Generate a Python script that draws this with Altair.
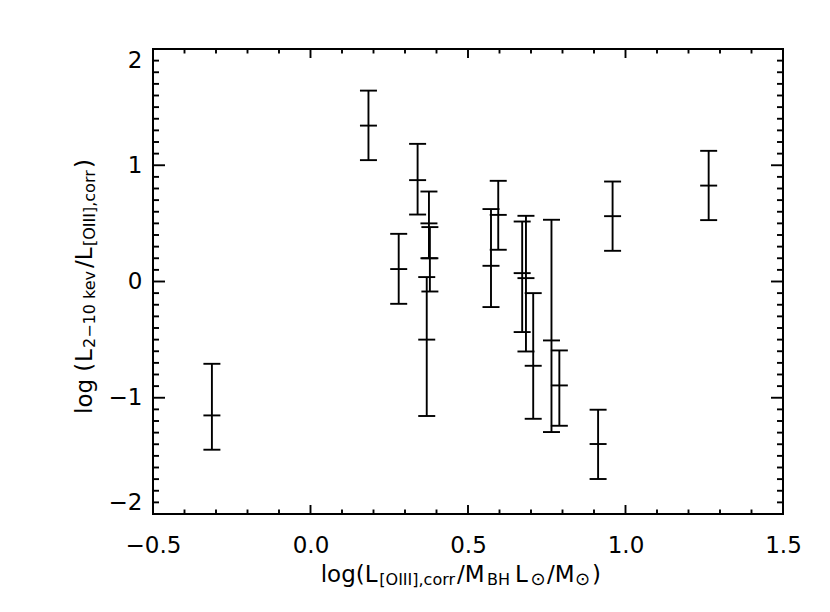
import altair as alt
import pandas as pd

# ---- data ----
x_vals = [-0.313, 0.184, 0.280, 0.340, 0.369, 0.376, 0.379, 0.573, 0.596,
          0.672, 0.684, 0.707, 0.765, 0.790, 0.913, 0.959, 1.264]
y_vals = [-1.152, 1.341, 0.107, 0.872, -0.500, 0.500, 0.200, 0.135, 0.573,
          0.072, 0.029, -0.725, -0.507, -0.894, -1.398, 0.562, 0.825]
y_low = [-1.447, 1.044, -0.192, 0.576, -1.157, 0.200, -0.086, -0.220, 0.273,
         -0.435, -0.602, -1.181, -1.295, -1.241, -1.699, 0.264, 0.528]
y_high = [-0.708, 1.642, 0.410, 1.184, 0.038, 0.774, 0.468, 0.623, 0.866,
          0.516, 0.565, -0.100, 0.531, -0.593, -1.103, 0.860, 1.124]

x_major = [-0.5, 0.0, 0.5, 1.0, 1.5]
x_minor = [-0.4, -0.3, -0.2, -0.1, 0.1, 0.2, 0.3, 0.4, 0.6, 0.7, 0.8, 0.9,
           1.1, 1.2, 1.3, 1.4]
y_major = [-2, -1, 0, 1, 2]
y_minor = [-1.9, -1.8, -1.7, -1.6, -1.5, -1.4, -1.3, -1.2, -1.1,
           -0.9, -0.8, -0.7, -0.6, -0.5, -0.4, -0.3, -0.2, -0.1,
           0.1, 0.2, 0.3, 0.4, 0.5, 0.6, 0.7, 0.8, 0.9,
           1.1, 1.2, 1.3, 1.4, 1.5, 1.6, 1.7, 1.8, 1.9]

W, H = 630, 465
FONT = "DejaVu Sans"
MAIN, SUB = 23, 16
LW = 1.9

df = pd.DataFrame({"x": x_vals, "y": y_vals, "lo": y_low, "hi": y_high})
xs = alt.Scale(domain=[-0.5, 1.5], nice=False, zero=False)
ys = alt.Scale(domain=[-2, 2], nice=False, zero=False)

ax_x = alt.Axis(values=x_major, format=".1f", ticks=False, tickSize=0,
                domain=False, grid=False, labelFont=FONT, title=None,
                labelFontSize=MAIN, labelPadding=20, labelColor="black",
                labelFlush=False, labelOverlap=False)
ax_y = alt.Axis(values=y_major, format="d", ticks=False, tickSize=0,
                domain=False, grid=False, labelFont=FONT, title=None,
                labelFontSize=MAIN, labelPadding=11, labelFlush=True,
                labelOverlap=False, labelColor="black")

def X(field):
    return alt.X(field, scale=xs, axis=ax_x, title=None)

def Y(field):
    return alt.Y(field, scale=ys, axis=ax_y, title=None)

bars = alt.Chart(df).mark_rule(color="black", strokeWidth=LW).encode(
    x=X("x:Q"), y=Y("lo:Q"), y2="hi:Q",
)

caps = alt.Chart(df).transform_fold(["lo", "hi", "y"], as_=["kind", "val"]).mark_tick(
    orient="horizontal", size=17, thickness=LW, color="black", opacity=1
).encode(x=X("x:Q"), y=Y("val:Q"))

layers = [bars, caps]

def xticks(vals, length):
    d = pd.DataFrame({"v": vals})
    out = []
    for y0, y1 in [(H, H - length), (0, length)]:
        out.append(alt.Chart(d).mark_rule(color="black", strokeWidth=LW).encode(
            x=X("v:Q"), y=alt.value(y0), y2=alt.value(y1)))
    return out

def yticks(vals, length):
    d = pd.DataFrame({"v": vals})
    out = []
    for x0, x1 in [(0, length), (W, W - length)]:
        out.append(alt.Chart(d).mark_rule(color="black", strokeWidth=LW).encode(
            y=Y("v:Q"), x=alt.value(x0), x2=alt.value(x1)))
    return out

layers += xticks(x_major, 9) + xticks(x_minor, 4.5)
layers += yticks(y_major, 12) + yticks(y_minor, 6)

def seg(text, x, y, size, angle=0):
    kw = dict(align="left", baseline="alphabetic", font=FONT, fontSize=size,
              color="black")
    if angle:
        kw["angle"] = angle
    return alt.Chart(pd.DataFrame({"t": [text]})).mark_text(**kw).encode(
        text="t:N", x=alt.value(x), y=alt.value(y))

# x title (page coords minus plot origin 153,49)
xb, xs_b = 533, 536
x_title = [
    ("log(L", 320.7, xb, MAIN), ("[OIII],corr", 379.3, xs_b, SUB),
    ("/M", 457, xb, MAIN), ("BH", 487, xs_b, SUB),
    (" L", 515, xb, MAIN), ("\u2299", 530.5, xs_b, 18),
    ("/M", 547, xb, MAIN), ("\u2299", 575, xs_b, 18),
    (")", 592, xb, MAIN),
]
for t, px, py, fs in x_title:
    layers.append(seg(t, px - 153, py, fs))

# y title, rotated
ym, ysub = 91.5 - 153, 94.5 - 153
y_title = [
    ("log (", 414, ym, MAIN), ("L", 362, ym, MAIN),
    ("2\u221210 kev", 348, ysub, SUB), ("/L", 268, ym, MAIN),
    ("[OIII],corr", 246, ysub, SUB), (")", 168, ym, MAIN),
]
for t, py, px, fs in y_title:
    layers.append(seg(t, px, py - 49, fs, angle=270))

chart = alt.layer(*layers).properties(
    width=W, height=H,
    autosize=alt.AutoSizeParams(type="none"),
    padding={"left": 145, "top": 41, "right": 30, "bottom": 85},
    background="white",
).configure_view(stroke="black", strokeWidth=2)

chart.save("out.html", embed_options={"renderer": "svg", "actions": False})
